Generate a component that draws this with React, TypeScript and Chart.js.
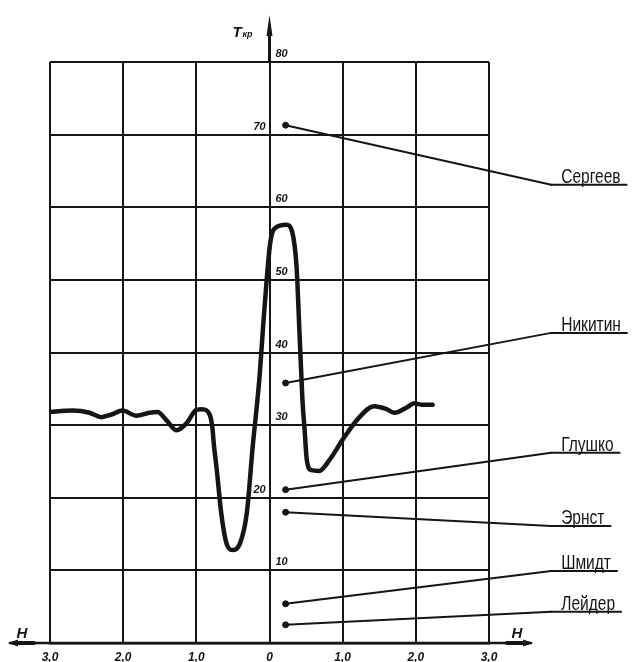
import React, { useEffect, useRef } from "react";
import { Chart, registerables } from "chart.js";

Chart.register(...registerables);

// ---- data ----
const curveH = [
  -3.03, -2.69, -2.46, -2.3, -2.15, -2.01, -1.82, -1.64, -1.53, -1.41, -1.27, -1.13, -1.0, -0.92,
  -0.82, -0.78, -0.76, -0.72, -0.66, -0.59, -0.51, -0.4, -0.31, -0.23, -0.14, -0.07, 0.01, 0.1,
  0.23, 0.31, 0.37, 0.41, 0.45, 0.48, 0.51, 0.57, 0.68, 0.82, 1.0, 1.23, 1.43, 1.6, 1.71, 1.87,
  1.98, 2.09, 2.23,
];
const curveT = [
  31.8, 32.0, 31.7, 31.1, 31.5, 32.0, 31.3, 31.7, 31.8, 30.7, 29.3, 30.3, 32.1, 32.2,
  31.5, 29.6, 27.3, 23.8, 17.9, 13.8, 12.8, 13.8, 17.9, 27.0, 36.2, 45.9, 55.1, 57.3,
  57.6, 56.6, 51.8, 42.7, 33.5, 29.3, 25.2, 23.8, 23.7, 25.2, 28.0, 31.1, 32.6, 32.2, 31.7, 32.4,
  33.0, 32.8, 32.8,
];
const hTicks = [-3, -2, -1, 0, 1, 2, 3];
const tTicks = [10, 20, 30, 40, 50, 60, 70, 80];
const tTicksLeft = [20, 70];
const authors = ["Сергеев", "Никитин", "Глушко", "Эрнст", "Шмидт", "Лейдер"];
const authorT = [71.3, 35.8, 21.1, 18.0, 5.4, 2.5];
const authorH = 0.22;

// ---- annotation anchors (layout, in axis units) ----
const leaderEndH = 3.85;
const leaderEndT = [63.1, 42.7, 26.2, 16.1, 9.9, 4.3];

const INK = "#151515";

const decor = {
  id: "decor",
  afterDraw(chart: any) {
    const ctx = chart.ctx as CanvasRenderingContext2D;
    const xs = chart.scales.x;
    const ys = chart.scales.y;
    const x0 = xs.getPixelForValue(0);
    const yb = ys.getPixelForValue(0);
    const yTop = ys.getPixelForValue(80);
    ctx.save();
    ctx.strokeStyle = INK;
    ctx.fillStyle = INK;
    ctx.lineCap = "round";

    // vertical axis extension + arrow
    ctx.lineWidth = 3;
    ctx.beginPath();
    ctx.moveTo(x0, yTop);
    ctx.lineTo(x0, yTop - 30);
    ctx.stroke();
    ctx.beginPath();
    ctx.moveTo(x0, yTop - 47);
    ctx.lineTo(x0 - 3, yTop - 26);
    ctx.lineTo(x0 + 3, yTop - 26);
    ctx.closePath();
    ctx.fill();

    // horizontal axis extensions with arrows
    const xl = xs.left - 40;
    const xr = xs.right + 42;
    ctx.lineWidth = 2.5;
    ctx.beginPath();
    ctx.moveTo(xl, yb);
    ctx.lineTo(xr, yb);
    ctx.stroke();
    ctx.lineWidth = 4;
    ctx.beginPath();
    ctx.moveTo(xl + 4, yb);
    ctx.lineTo(xl + 24, yb);
    ctx.moveTo(xr - 24, yb);
    ctx.lineTo(xr - 4, yb);
    ctx.stroke();
    ctx.beginPath();
    ctx.moveTo(xl - 2, yb);
    ctx.lineTo(xl + 8, yb - 3.5);
    ctx.lineTo(xl + 8, yb + 3.5);
    ctx.closePath();
    ctx.fill();
    ctx.beginPath();
    ctx.moveTo(xr + 2, yb);
    ctx.lineTo(xr - 8, yb - 3.5);
    ctx.lineTo(xr - 8, yb + 3.5);
    ctx.closePath();
    ctx.fill();

    // H labels
    ctx.font = 'italic bold 15px "Liberation Sans"';
    ctx.textAlign = "center";
    ctx.textBaseline = "alphabetic";
    ctx.fillText("H", xl + 12, yb - 5);
    ctx.fillText("H", xr - 14, yb - 5);

    // T_kr label
    ctx.textAlign = "left";
    ctx.font = 'italic bold 15px "Liberation Sans"';
    ctx.fillText("T", x0 - 37, yTop - 25);
    ctx.font = 'italic bold 9px "Liberation Sans"';
    ctx.fillText("кр", x0 - 27, yTop - 25);

    // T tick labels
    ctx.font = 'italic bold 11px "Liberation Sans"';
    ctx.textAlign = "center";
    ctx.textBaseline = "middle";
    tTicks.forEach((t) => {
      const py = ys.getPixelForValue(t) - 8;
      const px = tTicksLeft.includes(t) ? x0 - 10 : x0 + 12;
      ctx.fillText(String(t), px, py);
    });

    // leaders + author names
    ctx.lineWidth = 2;
    authors.forEach((name, i) => {
      const px = xs.getPixelForValue(authorH);
      const py = ys.getPixelForValue(authorT[i]);
      const ex = xs.getPixelForValue(leaderEndH);
      const ey = ys.getPixelForValue(leaderEndT[i]);
      ctx.beginPath();
      ctx.moveTo(px, py);
      ctx.lineTo(ex, ey);
      ctx.stroke();
      ctx.font = '21px "Liberation Sans"';
      const sx = 0.74;
      const w = ctx.measureText(name).width * sx;
      ctx.beginPath();
      ctx.moveTo(ex, ey);
      ctx.lineTo(ex + 10 + w + 6, ey);
      ctx.stroke();
      ctx.save();
      ctx.translate(ex + 10, ey - 2);
      ctx.scale(sx, 1);
      ctx.textAlign = "left";
      ctx.textBaseline = "alphabetic";
      ctx.fillText(name, 0, 0);
      ctx.restore();
    });
    ctx.restore();
  },
};

export default function App() {
  const ref = useRef<HTMLCanvasElement | null>(null);
  useEffect(() => {
    if (!ref.current) return;
    const chart = new Chart(ref.current, {
      type: "line",
      data: {
        datasets: [
          {
            type: "line",
            data: curveH.map((h, i) => ({ x: h, y: curveT[i] })),
            borderColor: INK,
            borderWidth: 4.5,
            pointRadius: 0,
            cubicInterpolationMode: "monotone",
            fill: false,
            borderCapStyle: "round",
            borderJoinStyle: "round",
          } as any,
          {
            type: "scatter",
            data: authorT.map((t) => ({ x: authorH, y: t })),
            backgroundColor: INK,
            borderColor: INK,
            pointRadius: 3,
            showLine: false,
          } as any,
        ],
      },
      options: {
        animation: false,
        responsive: true,
        maintainAspectRatio: false,
        layout: { padding: { left: 50, right: 148, top: 62, bottom: 0 } },
        plugins: { legend: { display: false }, tooltip: { enabled: false } },
        scales: {
          x: {
            type: "linear",
            min: -3,
            max: 3,
            afterBuildTicks: (s: any) => {
              s.ticks = hTicks.map((v) => ({ value: v }));
            },
            afterFit: (s: any) => {
              s.height = 19;
            },
            grid: { color: INK, lineWidth: 2, drawTicks: false },
            border: { display: true, color: INK, width: 2.5 },
            ticks: {
              color: INK,
              padding: 7,
              maxRotation: 0,
              font: { family: "Liberation Sans", size: 12, weight: "bold", style: "italic" },
              callback: (v: any) => (v === 0 ? "0" : Math.abs(v).toFixed(1).replace(".", ",")),
            },
          },
          y: {
            type: "linear",
            min: 0,
            max: 80,
            ticks: { display: false, stepSize: 10 },
            afterFit: (s: any) => {
              s.width = 0;
            },
            grid: { color: INK, lineWidth: 2, drawTicks: false },
            border: { display: false },
          },
        },
      } as any,
      plugins: [decor],
    });
    return () => chart.destroy();
  }, []);
  return (
    <div style={{ position: "fixed", left: 0, top: 0, width: 637, height: 662, background: "#fff" }}>
      <canvas ref={ref} />
    </div>
  );
}
